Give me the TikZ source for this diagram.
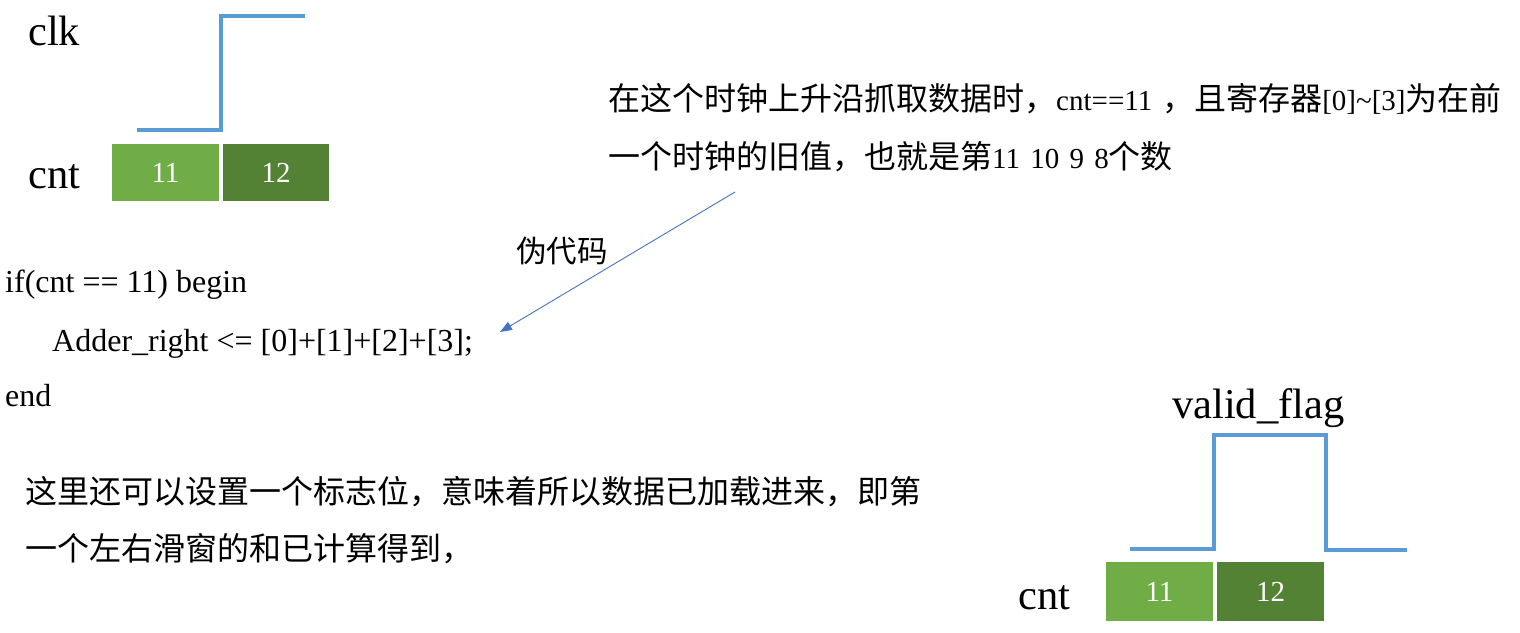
\documentclass[tikz,border=0pt]{standalone}
\usepackage{fontspec}
\setmainfont{Liberation Serif}
\newfontfamily\cjk{Noto Sans CJK SC}
\usetikzlibrary{arrows.meta}
\definecolor{wave}{HTML}{5B9BD5}
\definecolor{arrowblue}{HTML}{4472C4}
\definecolor{lightg}{HTML}{70AD47}
\definecolor{darkg}{HTML}{548235}
\newcommand{\zh}[1]{{\cjk\fontsize{32}{34}\selectfont #1}}
\tikzset{
  big/.style={font=\fontsize{42.5}{46}\selectfont, inner sep=0pt, anchor=base west},
  code/.style={font=\fontsize{32}{36}\selectfont, inner sep=0pt, anchor=base west},
  note/.style={font=\fontsize{29}{32}\selectfont, inner sep=0pt, anchor=base west},
  wavel/.style={draw=wave, line width=4pt},
  cellA/.style={fill=lightg, draw=none},
  cellB/.style={fill=darkg, draw=none},
  num/.style={text=white, inner sep=0pt, font=\fontsize{29}{32}\selectfont},
}
\begin{document}
\begin{tikzpicture}[x=1pt,y=-1pt]
\useasboundingbox (0,0) rectangle (1520,632);
% top left
\node[big] (clk) at (28,45) {clk};
\node[big] (cnt1) at (28,188) {cnt};
\draw[wavel] (137,130) -- (221,130) -- (221,16) -- (305,16);
\path[cellA] (112,144) rectangle (219,201);
\node[num] (c11a) at (165.5,173) {11};
\path[cellB] (223,144) rectangle (329,201);
\node[num] (c12a) at (276,173) {12};
% annotation
\node[note] (ann1) at (608,110) {\zh{在这个时钟上升沿抓取数据时，}cnt==11\hspace{10pt}\zh{，且寄存器}[0]\textasciitilde[3]\zh{为在前}};
\node[note] (ann2) at (608,168) {\zh{一个时钟的旧值，也就是第}11\hspace{3pt} 10\hspace{3pt} 9\hspace{3pt} 8\zh{个数}};
\node[note] (pseudo) at (516,262) {{\cjk\fontsize{30.5}{33}\selectfont 伪代码}};
\coordinate (afrom) at (735,192);
\coordinate (ato) at (500,332);
\draw[arrowblue, line width=0.9pt, -{Triangle[length=12pt,width=9pt]}] (afrom) -- (ato);
% code
\node[code] (l1) at (5,292) {if(cnt == 11) begin};
\node[code] (l2) at (52,351) {Adder\_right <= [0]+[1]+[2]+[3];};
\node[code] (l3) at (5,406) {end};
% bottom text
\node[note, font=\fontsize{32}{34}\selectfont] (b1) at (25,503) {\cjk 这里还可以设置一个标志位，意味着所以数据已加载进来，即第};
\node[note, font=\fontsize{32}{34}\selectfont] (b2) at (25,560) {\cjk 一个左右滑窗的和已计算得到，};
% bottom right
\node[big] (vf) at (1172,418) {valid\_flag};
\draw[wavel] (1130,549) -- (1214,549) -- (1214,435) -- (1326,435) -- (1326,550) -- (1407,550);
\node[big] (cnt2) at (1018,609) {cnt};
\path[cellA] (1106,562) rectangle (1213,621);
\node[num] (c11b) at (1159.5,592) {11};
\path[cellB] (1217,562) rectangle (1324,621);
\node[num] (c12b) at (1270.5,592) {12};
\end{tikzpicture}
\end{document}
